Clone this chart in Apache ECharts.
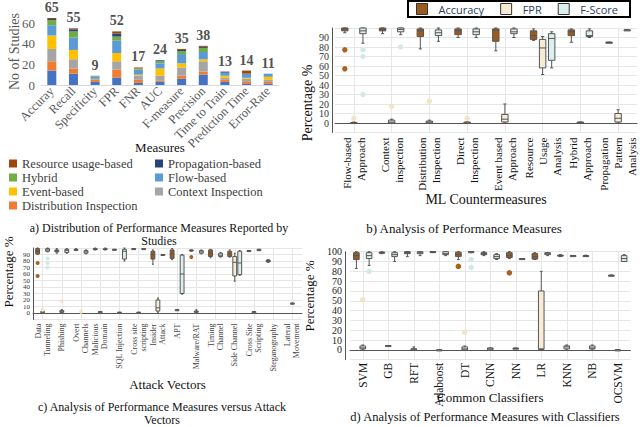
<!DOCTYPE html>
<html>
<head>
<meta charset="utf-8">
<script src="https://cdn.jsdelivr.net/npm/echarts@6/dist/echarts.min.js"></script>
<style>
  html, body { margin: 0; padding: 0; background: #fff; }
  #chart { width: 640px; height: 427px; }
</style>
</head>
<body>
<div id="chart"></div>
<script>
const chart = echarts.init(document.getElementById('chart'), null, { renderer: 'svg' });
const serif = 'Liberation Serif';

// a) studies per measure, stacked by countermeasure type
const measures = ['Accuray', 'Recall', 'Specificity', 'FPR', 'FNR', 'AUC', 'F-measure', 'Precision', 'Time to Train', 'Prediction Time', 'Error-Rate'];
const directInsp   = [14, 11, 3, 7, 2, 3, 6, 10, 3, 1, 1];
const distribution = [9, 5, 2, 8, 3, 1, 3, 3, 2, 2, 2];
const context      = [12, 9, 1, 8, 4, 5, 8, 10, 2, 3, 2];
const eventBased   = [13, 9, 0, 8, 1, 7, 4, 2, 2, 1, 3];
const flowBased    = [10, 12, 2, 12, 5, 5, 9, 7, 3, 4, 3];
const hybrid       = [5, 6, 1, 4, 1, 2, 3, 4, 0, 0, 0];
const propagation  = [1, 2, 0, 3, 0, 1, 1, 1, 1, 0, 0];
const resource     = [1, 1, 0, 2, 1, 0, 1, 1, 0, 3, 0];
const totals       = [65, 55, 9, 52, 17, 24, 35, 38, 13, 14, 11];

// b) ML countermeasures: [min, q1, median, q3, max]
const countermeasures = ['Flow-based\nApproach', 'Context\ninspection', 'Distribution\nInspection', 'Direct\nInspection',
  'Event based\nApproach', 'Resource\nUsage\nAnalysis', 'Hybrid\nApproach', 'Propagation\nPattern\nAnalysis'];
const bAcc = [[95,97,99,100,100],[94,97,98.5,100,100],[78,91,97,99,100],[90,93,97,99,100],[76,86,98,99,100],[87,88,92,97,99],[85,92,96,98,99],[85,85,85,85,85]];
const bFpr = [[0,0,0,0.5,1],[0,0,1,3,4],[0,0,1,2,3],[0,0,0,1,1],[0,1,4,9,20],[51,58,79,88,91],[0,0,0.5,1,1],[0,1,5,10,14]];
const bFsc = [[84,94,97,100,100],[93,96,98.5,100,100],[86,92,95,98,100],[90,93,96,99,100],[90,94,96,99,100],[58,66,89,94,96],[90,91,92,97,99],[98,98,98,98,98]];
const bAccOut = [[0,77],[0,57]];
const bFprOut = [[0,5],[1,17.5],[2,23],[3,5]];
const bFscOut = [[0,77],[0,70],[0,30],[1,80]];

// c) attack vectors
const vectors = ['Data\nTunneling', 'Phishing', 'Overt\nChannels', 'Malicious\nDomain', 'SQL Injection', 'Cross site\nscripting',
  'Insider\nAttack', 'APT', 'Malware/RAT', 'Timing\nChannel', 'Side Channel', 'Cross Site\nScripting', 'Steganography', 'Lateral\nMovement'];
const cAcc = [[90,91,95,99,100],[92,94,96,97,99],[96,96.5,97,98,99],[97,98,98.5,99,100],[97,97,97.5,98,98],[99,99,99,99,99],[75,83,90,95,97],[82,84,92,97,99],[95,95.5,96,97,97],[85,87,92,97,98],[86,87,91,95,97],[96,96,96,96,96],[78,78.5,80,81.5,82],null];
const cFpr = [[1,1,2,2,3],[0,1,2,4,5],null,[2,2,2,2,2],[1,1,1,1,1],[1,1,1,1,1],[0,3,8,20,23],[5,5,5,5,5],[0,1,2,3,5],null,[49,57,78,87,92],[2,2,2,2,2],null,[15,15,15,15,15]];
const cFsc = [[94,95,97,99,100],[92,93,96,98,99],[91,92,94,96,97],[97,97.5,98,99,100],[80,83,95,98,100],[99,99,99,99,99],[90,90,90,90,90],[29,30,60,89,90],[91,92,94,96,97],[86,87,89,92,93],[58,59,77,95,96],[96,96,97,98,98],null,null];
const cAccOut = [[0,77],[0,57],[8,86]];
const cFprOut = [[0,5],[1,18.5],[2,2]];
const cFscOut = [[0,84],[0,77],[0,70]];

// d) classifiers
const classifiers = ['SVM', 'GB', 'RFT', 'Adaboost', 'DT', 'CNN', 'NN', 'LR', 'KNN', 'NB', 'OCSVM'];
const dAcc = [[83,92,96,99,100],[98,98.5,99,99.5,100],[95,98,99,100,100],[100,100,100,100,100],[92,95,97,99.5,100],[96,97,98,99,100],[93,94,96,99,100],[92,92.5,95,98,99],[95,95.5,96,96.5,97],[95.5,96,96,96,96.5],[76,76,76,76,76]];
const dFpr = [[0,1,2,4,5],[4.4,4.4,4.4,4.4,4.4],[0,0,1,1,3],[0,0,0,0,0],[0,0,1,3,4],[0,0,1,2,2],[1.7,1.7,1.7,1.7,1.7],[0,0.5,1,60,80],[0,1,3,4,5],[0,1,2,4,5],[0,0,0,0,0]];
const dFsc = [[86,93,96,99,100],[90,95,97,99,100],[96,98,99,100,100],[96,97,98,100,100],[99,99.5,100,100,100],[92,93,95,97,98],[93,93,93,93,93],[96,97,98,99,99],[96,96,96,96,96],null,[90,90,93,96,97]];
const dAccOut = [[4,85],[6,78.5]];
const dFprOut = [[0,51],[4,18]];
const dFscOut = [[0,80],[4,92],[4,84]];

const accFill = '#9C5B1E', fprFill = '#F6ECD6', fscFill = '#DCEFEE';
const accDot = '#A8621F', fprDot = '#F2E4C6', fscDot = '#D2E9E7';

// box drawn from [min, q1, median, q3, max], shifted inside its category band
function boxSeries(name, axis, rows, off, frac, fill) {
  const data = [];
  rows.forEach((r, i) => { if (r) data.push([i].concat(r)); });
  return {
    type: 'custom', name: name, xAxisIndex: axis, yAxisIndex: axis, data: data, clip: false,
    encode: { x: 0, y: [1, 2, 3, 4, 5] },
    itemStyle: { color: fill },
    renderItem: function (params, api) {
      const i = api.value(0);
      const band = api.size([1, 0])[0];
      const x = api.coord([i, 0])[0] + off * band;
      const hw = band * frac / 2;
      const y = k => api.coord([i, api.value(k)])[1];
      const lo = y(1), q1 = y(2), med = y(3), q3 = y(4), hi = y(5);
      const st = { stroke: '#555', lineWidth: 1 };
      return {
        type: 'group', children: [
          { type: 'line', shape: { x1: x, y1: hi, x2: x, y2: q3 }, style: st },
          { type: 'line', shape: { x1: x, y1: q1, x2: x, y2: lo }, style: st },
          { type: 'line', shape: { x1: x - hw / 2, y1: hi, x2: x + hw / 2, y2: hi }, style: st },
          { type: 'line', shape: { x1: x - hw / 2, y1: lo, x2: x + hw / 2, y2: lo }, style: st },
          { type: 'rect', shape: { x: x - hw, y: q3, width: hw * 2, height: Math.max(q1 - q3, 1) }, style: { fill: fill, stroke: '#555', lineWidth: 1 } },
          { type: 'line', shape: { x1: x - hw, y1: med, x2: x + hw, y2: med }, style: st }
        ]
      };
    }
  };
}

function outSeries(name, axis, pts, off, r, fill) {
  return {
    type: 'custom', name: name, xAxisIndex: axis, yAxisIndex: axis, data: pts, clip: false,
    encode: { x: 0, y: 1 },
    itemStyle: { color: fill },
    renderItem: function (params, api) {
      const band = api.size([1, 0])[0];
      const p = api.coord([api.value(0), api.value(1)]);
      return { type: 'circle', shape: { cx: p[0] + off * band, cy: p[1], r: r }, style: { fill: fill } };
    }
  };
}

function stackBar(name, values, color) {
  return { type: 'bar', name: name, stack: 'studies', data: values, barWidth: 9, xAxisIndex: 0, yAxisIndex: 0, itemStyle: { color: color } };
}

function pctAxis(grid, offset, fontSize, color, lineHeight) {
  return {
    gridIndex: grid, type: 'value', min: -10, max: 100, interval: 10, offset: offset,
    axisLine: { show: true, lineStyle: { color: '#555' } },
    axisTick: { show: false },
    axisLabel: { formatter: v => v < 0 ? '' : v, fontFamily: serif, fontSize: fontSize, lineHeight: lineHeight, color: color, margin: 3 },
    splitLine: { lineStyle: { color: '#e6e6e6' } }
  };
}

function catAxis(grid, cats, fontSize, color, lineHeight, margin, name, nameGap, nameSize) {
  return {
    gridIndex: grid, type: 'category', data: cats,
    axisLine: { lineStyle: { color: '#555' } },
    axisTick: { show: false, alignWithLabel: true },
    axisLabel: { rotate: 90, interval: 0, fontFamily: serif, fontSize: fontSize, color: color, lineHeight: lineHeight, margin: margin },
    splitLine: { show: true, alignWithLabel: true, lineStyle: { color: '#e6e6e6' } },
    name: name, nameLocation: 'middle', nameGap: nameGap, nameMoveOverlap: false,
    nameTextStyle: { fontFamily: serif, fontSize: nameSize, color: '#111' }
  };
}

function caption(text, x, y, size, rotation) {
  return {
    type: 'text', x: x, y: y, rotation: rotation || 0, silent: true,
    style: { text: text, font: size + 'px "Liberation Serif"', fill: '#111', textAlign: 'center', textVerticalAlign: 'middle', align: 'center', verticalAlign: 'middle', lineHeight: 13 }
  };
}

const legendText = { fontFamily: serif, fontSize: 12.5, lineHeight: 12, color: '#404040' };

const option = {
  animation: false,
  grid: [
    { left: 41, top: 18, width: 238, height: 67 },
    { left: 335, top: 28, width: 302, height: 104.5 },
    { left: 33, top: 248, width: 269, height: 71.5 },
    { left: 350, top: 251.7, width: 280.5, height: 108 }
  ],
  legend: [
    { orient: 'vertical', left: 9, top: 157, padding: 0, itemWidth: 8, itemHeight: 8, itemGap: 1,
      icon: 'rect', textStyle: legendText,
      data: ['Resource usage-based', 'Hybrid', 'Event-based', 'Distribution Inspection'] },
    { orient: 'vertical', left: 155, top: 157, padding: 0, itemWidth: 8, itemHeight: 8, itemGap: 1,
      icon: 'rect', textStyle: legendText,
      data: ['Propagation-based', 'Flow-based', 'Context Inspection'] },
    { orient: 'horizontal', left: 408, top: 1, itemWidth: 11, itemHeight: 11, itemGap: 16,
      borderColor: '#000', borderWidth: 2, padding: [2, 12, 2, 8], icon: 'rect',
      textStyle: { fontFamily: 'Open Sans', fontSize: 11, color: '#2a3f5f', padding: [0, 0, 0, 6] },
      data: [
        { name: 'Accuracy', itemStyle: { color: accFill, borderColor: '#333', borderWidth: 1 } },
        { name: 'FPR', itemStyle: { color: fprFill, borderColor: '#333', borderWidth: 1 } },
        { name: 'F-Score', itemStyle: { color: fscFill, borderColor: '#333', borderWidth: 1 } }
      ] }
  ],
  xAxis: [
    { gridIndex: 0, type: 'category', data: measures,
      axisLine: { lineStyle: { color: '#D9D9D9' } }, axisTick: { show: false },
      axisLabel: { rotate: 45, interval: 0, fontFamily: serif, fontSize: 12.5, color: '#595959', margin: 4 },
      name: 'Measures', nameLocation: 'middle', nameGap: 56, nameMoveOverlap: false,
      nameTextStyle: { fontFamily: serif, fontSize: 13, color: '#111' } },
    catAxis(1, countermeasures, 11, '#111', 14, 5, 'ML Countermeasures', 60, 14),
    catAxis(2, vectors, 8, '#444', 9, 4, 'Attack Vectors', 58, 13),
    catAxis(3, classifiers, 11.5, '#111', 13, 3, 'Common Classifiers', 31, 13)
  ],
  yAxis: [
    { gridIndex: 0, type: 'value', min: 0, max: 65, interval: 20,
      axisLine: { show: false }, axisTick: { show: false }, splitLine: { show: false },
      axisLabel: { showMaxLabel: false, fontFamily: serif, fontSize: 13, color: '#595959', margin: 6 },
      name: 'No of Studies', nameLocation: 'middle', nameGap: 20, nameMoveOverlap: false,
      nameTextStyle: { fontFamily: serif, fontSize: 14, color: '#595959' } },
    pctAxis(1, 3, 10, '#333', 9),
    pctAxis(2, 0, 7, '#333', 6),
    pctAxis(3, 5, 10, '#222', 9)
  ],
  series: [
    stackBar('Direct Inspection', directInsp, '#4472C4'),
    stackBar('Distribution Inspection', distribution, '#ED7D31'),
    stackBar('Context Inspection', context, '#A5A5A5'),
    stackBar('Event-based', eventBased, '#FFC000'),
    stackBar('Flow-based', flowBased, '#5B9BD5'),
    stackBar('Hybrid', hybrid, '#70AD47'),
    stackBar('Propagation-based', propagation, '#264478'),
    stackBar('Resource usage-based', resource, '#9E480E'),
    { type: 'scatter', name: 'Total', xAxisIndex: 0, yAxisIndex: 0, data: totals, symbolSize: 1,
      itemStyle: { color: 'rgba(0,0,0,0)' }, silent: true,
      label: { show: true, position: 'top', distance: 3, formatter: p => totals[p.dataIndex],
        fontFamily: serif, fontSize: 14, fontWeight: 'bold', color: '#222' } },

    boxSeries('Accuracy', 1, bAcc, -0.24, 0.17, accFill),
    boxSeries('FPR', 1, bFpr, 0, 0.17, fprFill),
    boxSeries('F-Score', 1, bFsc, 0.24, 0.17, fscFill),
    outSeries('Accuracy', 1, bAccOut, -0.24, 2.7, accDot),
    outSeries('FPR', 1, bFprOut, 0, 2.7, fprDot),
    outSeries('F-Score', 1, bFscOut, 0.24, 2.7, fscDot),

    boxSeries('Accuracy', 2, cAcc, -0.26, 0.2, accFill),
    boxSeries('FPR', 2, cFpr, 0, 0.2, fprFill),
    boxSeries('F-Score', 2, cFsc, 0.26, 0.2, fscFill),
    outSeries('Accuracy', 2, cAccOut, -0.26, 2, accDot),
    outSeries('FPR', 2, cFprOut, 0, 2, fprDot),
    outSeries('F-Score', 2, cFscOut, 0.26, 2, fscDot),

    boxSeries('Accuracy', 3, dAcc, -0.25, 0.22, accFill),
    boxSeries('FPR', 3, dFpr, 0, 0.22, fprFill),
    boxSeries('F-Score', 3, dFsc, 0.25, 0.22, fscFill),
    outSeries('Accuracy', 3, dAccOut, -0.25, 2.8, accDot),
    outSeries('FPR', 3, dFprOut, 0, 2.8, fprDot),
    outSeries('F-Score', 3, dFscOut, 0.25, 2.8, fscDot)
  ],
  graphic: [
    caption('a) Distribution of Performance Measures Reported by\nStudies', 159, 234.5, 12),
    caption('b) Analysis of Performance Measures', 464, 228, 13),
    caption('c) Analysis of Performance Measures versus Attack\nVectors', 162, 413.5, 12),
    caption('d) Analysis of Performance Measures with Classifiers', 485, 417, 12.5),
    caption('Percentage %', 307, 103, 14, Math.PI / 2),
    caption('Percentage %', 8, 272, 13, Math.PI / 2),
    caption('Percentage %', 309, 296, 13, Math.PI / 2)
  ]
};

chart.setOption(option);
</script>
</body>
</html>
